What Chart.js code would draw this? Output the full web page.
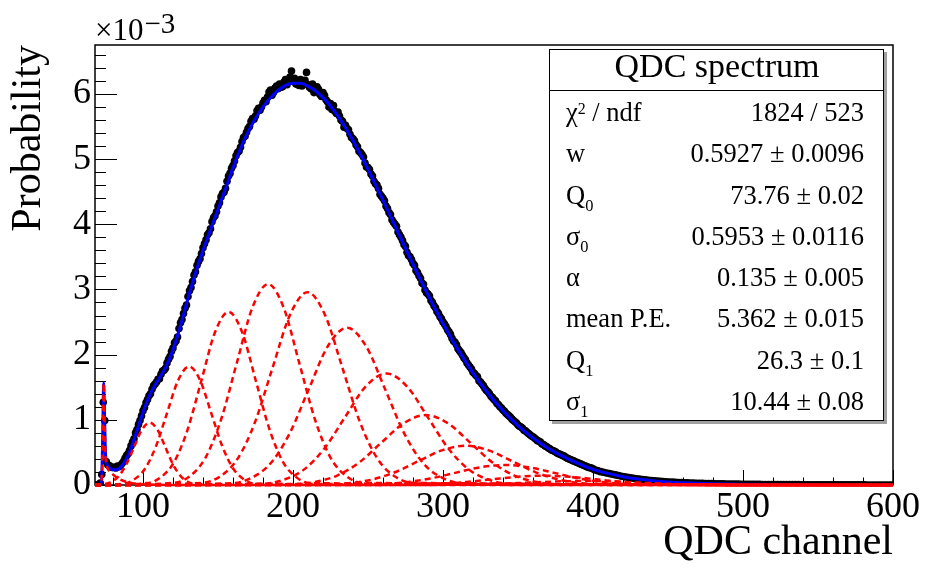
<!DOCTYPE html>
<html>
<head>
<meta charset="utf-8">
<title>QDC spectrum</title>
<script src="https://cdn.jsdelivr.net/npm/chart.js@4.4.1/dist/chart.umd.min.js"></script>
<style>
html,body{margin:0;padding:0;background:#fff;}
#wrap{width:927px;height:575px;}
canvas{display:block;}
</style>
</head>
<body>
<div id="wrap"><canvas id="chart" width="927" height="575"></canvas></div>
<script>
// ---- axis setup (probabilities are in units of 1e-3, see the x10^-3 multiplier) ----
const xTickValues = [100, 200, 300, 400, 500, 600];
const yTickValues = [0, 1, 2, 3, 4, 5, 6];
const xMinorStep = 20;
const yMinorStep = 0.2;
const xRange = [68, 600];
const yRange = [0, 6.75];

// ---- measured histogram (black points) ----
// pedestal region, 1-channel bins
const pedestalBinX = [68.5, 69.5, 70.5, 71.5, 72.5, 73.5, 74.5, 75.5, 76.5, 77.5, 78.5, 79.5];
const pedestalBinY = [0.0, 0.0, 0.005, 0.03, 0.16, 1.27, 0.99, 0.36, 0.31, 0.30, 0.28, 0.27];
// main region, 1-channel bins, channels 81 ... 400
const mainStart = 81;
const mainStep = 1;
const mainProbE3 = [
  0.27, 0.26, 0.29, 0.28, 0.30, 0.33, 0.36, 0.41, 0.45, 0.48,
  0.53, 0.60, 0.66, 0.71, 0.80, 0.85, 0.93, 0.99, 1.06, 1.14,
  1.19, 1.26, 1.31, 1.37, 1.40, 1.47, 1.52, 1.55, 1.58, 1.62,
  1.63, 1.70, 1.75, 1.76, 1.79, 1.87, 1.93, 1.97, 2.05, 2.10,
  2.18, 2.21, 2.27, 2.40, 2.49, 2.54, 2.63, 2.71, 2.76, 2.89,
  2.98, 3.03, 3.12, 3.22, 3.27, 3.37, 3.43, 3.47, 3.55, 3.64,
  3.70, 3.76, 3.84, 3.87, 3.93, 4.04, 4.10, 4.13, 4.19, 4.28,
  4.33, 4.42, 4.47, 4.49, 4.55, 4.66, 4.74, 4.78, 4.86, 4.90,
  4.97, 5.05, 5.10, 5.12, 5.18, 5.27, 5.33, 5.35, 5.41, 5.47,
  5.50, 5.58, 5.62, 5.61, 5.66, 5.74, 5.78, 5.75, 5.80, 5.86,
  5.90, 5.88, 5.95, 6.03, 6.06, 5.98, 6.02, 6.09, 6.12, 6.08,
  6.15, 6.10, 6.11, 6.18, 6.22, 6.14, 6.20, 6.26, 6.35, 6.19,
  6.24, 6.15, 6.18, 6.13, 6.22, 6.12, 6.16, 6.21, 6.33, 6.14,
  6.10, 6.08, 6.15, 6.02, 6.06, 6.11, 6.07, 5.99, 5.96, 6.02,
  5.98, 5.91, 5.88, 5.80, 5.85, 5.76, 5.82, 5.73, 5.70, 5.72,
  5.66, 5.60, 5.58, 5.49, 5.52, 5.47, 5.45, 5.38, 5.33, 5.31,
  5.28, 5.22, 5.19, 5.12, 5.10, 5.07, 5.03, 4.94, 4.88, 4.87,
  4.84, 4.77, 4.74, 4.66, 4.62, 4.60, 4.55, 4.46, 4.43, 4.40,
  4.36, 4.28, 4.24, 4.18, 4.15, 4.07, 4.03, 4.00, 3.97, 3.88,
  3.84, 3.80, 3.75, 3.69, 3.66, 3.57, 3.52, 3.50, 3.46, 3.40,
  3.37, 3.29, 3.26, 3.21, 3.17, 3.10, 3.08, 2.99, 2.95, 2.93,
  2.90, 2.83, 2.80, 2.75, 2.72, 2.66, 2.63, 2.58, 2.55, 2.50,
  2.47, 2.43, 2.38, 2.35, 2.31, 2.25, 2.21, 2.19, 2.15, 2.09,
  2.06, 2.03, 1.99, 1.95, 1.92, 1.87, 1.84, 1.81, 1.78, 1.73,
  1.71, 1.68, 1.66, 1.60, 1.58, 1.55, 1.52, 1.48, 1.45, 1.43,
  1.40, 1.36, 1.34, 1.31, 1.29, 1.25, 1.23, 1.20, 1.18, 1.15,
  1.13, 1.10, 1.08, 1.06, 1.04, 1.01, 0.99, 0.97, 0.95, 0.92,
  0.90, 0.89, 0.87, 0.84, 0.83, 0.81, 0.79, 0.77, 0.75, 0.74,
  0.72, 0.70, 0.68, 0.67, 0.66, 0.63, 0.62, 0.60, 0.59, 0.57,
  0.56, 0.54, 0.53, 0.52, 0.51, 0.49, 0.48, 0.47, 0.46, 0.45,
  0.44, 0.42, 0.41, 0.40, 0.39, 0.38, 0.37, 0.36, 0.35, 0.34,
  0.33, 0.32, 0.31, 0.30, 0.29, 0.28, 0.27, 0.265, 0.26, 0.25
];
// tail region, channels 401, 403, ... 599
const tailStart = 401;
const tailStep = 2;
const tailProbE3 = [
  0.235, 0.22, 0.205, 0.195, 0.185, 0.175, 0.165, 0.155, 0.145, 0.135,
  0.125, 0.118, 0.11, 0.102, 0.096, 0.09, 0.085, 0.079, 0.074, 0.069,
  0.064, 0.06, 0.056, 0.053, 0.05, 0.047, 0.044, 0.041, 0.038, 0.036,
  0.034, 0.032, 0.031, 0.029, 0.027, 0.026, 0.025, 0.023, 0.022, 0.021,
  0.020, 0.019, 0.018, 0.017, 0.016, 0.015, 0.014, 0.013, 0.013, 0.012,
  0.011, 0.011, 0.010, 0.010, 0.009, 0.009, 0.008, 0.008, 0.008, 0.007,
  0.007, 0.007, 0.006, 0.006, 0.006, 0.005, 0.005, 0.005, 0.005, 0.004,
  0.004, 0.004, 0.004, 0.004, 0.003, 0.003, 0.003, 0.003, 0.003, 0.003,
  0.003, 0.002, 0.002, 0.002, 0.002, 0.002, 0.002, 0.002, 0.002, 0.002,
  0.002, 0.001, 0.001, 0.001, 0.001, 0.001, 0.001, 0.001, 0.001, 0.001
];

// ---- total fit (blue) ----
const fitX = [68, 70, 71, 72, 72.5, 73, 73.4, 73.76, 74.1, 74.5,
  75, 76, 77, 78, 80, 82, 85, 90, 95, 100,
  105, 110, 115, 120, 125, 130, 135, 140, 145, 150,
  155, 160, 165, 170, 175, 180, 185, 190, 195, 200,
  205, 210, 215, 220, 225, 230, 235, 240, 245, 250,
  255, 260, 265, 270, 275, 280, 285, 290, 295, 300,
  310, 320, 330, 340, 350, 360, 370, 380, 390, 400,
  410, 420, 430, 440, 450, 460, 480, 500, 550, 600];
const fitY = [0, 0, 0.002, 0.02, 0.14, 0.58, 1.16, 1.56, 1.33, 0.93,
  0.48, 0.31, 0.28, 0.26, 0.235, 0.235, 0.27, 0.451, 0.762, 1.114,
  1.405, 1.608, 1.801, 2.073, 2.445, 2.861, 3.25, 3.596, 3.911, 4.228,
  4.545, 4.865, 5.161, 5.414, 5.622, 5.796, 5.939, 6.052, 6.130, 6.162,
  6.162, 6.119, 6.048, 5.942, 5.814, 5.658, 5.481, 5.285, 5.07, 4.844,
  4.607, 4.37, 4.123, 3.875, 3.629, 3.387, 3.146, 2.916, 2.692, 2.479,
  2.077, 1.721, 1.407, 1.138, 0.91, 0.721, 0.565, 0.439, 0.33, 0.24,
  0.178, 0.128, 0.092, 0.066, 0.047, 0.034, 0.018, 0.010, 0.003, 0.001];

// ---- fit components (red dashed), [channel, probability x1e3] ----
const pe0 = [[68,0],[71.5,0.001],[72,0.016],[72.5,0.136],[73,0.566],[73.4,1.10],[73.76,1.56],[74.1,1.30],[74.5,0.90],[75,0.46],[76,0.28],[78,0.21],[80,0.162],[85,0.082],[90,0.042],[95,0.021],[100,0.011],[110,0.003],[120,0.001],[600,0]];
const pe1 = [[68,0],[73.1,0.011],[78.3,0.042],[83.5,0.129],[88.8,0.311],[94.0,0.580],[99.2,0.845],[104.5,0.957],[109.7,0.845],[114.9,0.580],[120.1,0.311],[125.4,0.129],[130.6,0.042],[135.8,0.011],[600,0]];
const pe2 = [[68,0],[86.4,0.020],[93.8,0.080],[101.2,0.246],[108.6,0.591],[116.0,1.103],[123.4,1.605],[130.8,1.819],[138.1,1.605],[145.5,1.103],[152.9,0.591],[160.3,0.246],[167.7,0.080],[175.1,0.020],[600,0]];
const pe3 = [[68,0],[102.8,0.029],[111.8,0.117],[120.9,0.359],[129.9,0.862],[139.0,1.610],[148.0,2.343],[157.1,2.655],[166.1,2.343],[175.1,1.610],[184.2,0.862],[193.2,0.359],[202.3,0.117],[211.3,0.029],[600,0]];
const pe4 = [[68,0],[120.7,0.034],[131.2,0.135],[141.6,0.417],[152.0,1.001],[162.5,1.869],[172.9,2.720],[183.4,3.082],[193.8,2.720],[204.2,1.869],[214.7,1.001],[225.1,0.417],[235.6,0.135],[246.0,0.034],[600,0]];
const pe5 = [[68,0],[139.6,0.033],[151.3,0.130],[163.0,0.400],[174.6,0.960],[186.3,1.793],[198.0,2.610],[209.7,2.957],[221.3,2.610],[233.0,1.793],[244.7,0.960],[256.4,0.400],[268.0,0.130],[279.7,0.033],[600,0]];
const pe6 = [[68,0],[159.2,0.027],[172.0,0.106],[184.8,0.326],[197.6,0.784],[210.4,1.464],[223.2,2.129],[236.0,2.413],[248.7,2.129],[261.5,1.464],[274.3,0.784],[287.1,0.326],[299.9,0.106],[312.7,0.027],[600,0]];
const pe7 = [[68,0],[179.4,0.019],[193.2,0.075],[207.0,0.232],[220.8,0.556],[234.6,1.038],[248.4,1.510],[262.3,1.711],[276.1,1.510],[289.9,1.038],[303.7,0.556],[317.5,0.232],[331.3,0.075],[345.1,0.019],[600,0]];
const pe8 = [[68,0],[200.0,0.012],[214.7,0.047],[229.5,0.145],[244.3,0.348],[259.0,0.651],[273.8,0.947],[288.6,1.073],[303.3,0.947],[318.1,0.651],[332.8,0.348],[347.6,0.145],[362.4,0.047],[377.1,0.012],[600,0]];
const pe9 = [[68,0],[220.9,0.007],[236.6,0.026],[252.2,0.081],[267.9,0.195],[283.5,0.365],[299.2,0.531],[314.9,0.602],[330.5,0.531],[346.2,0.365],[361.8,0.195],[377.5,0.081],[393.1,0.026],[408.8,0.007],[600,0]];
const pe10 = [[68,0],[242.1,0.003],[258.6,0.013],[275.1,0.042],[291.6,0.100],[308.1,0.186],[324.6,0.271],[341.2,0.307],[357.7,0.271],[374.2,0.186],[390.7,0.100],[407.2,0.042],[423.7,0.013],[440.2,0.003],[600,0]];
const pe11 = [[68,0],[263.6,0.002],[280.9,0.006],[298.2,0.019],[315.5,0.046],[332.8,0.087],[350.1,0.126],[367.5,0.143],[384.8,0.126],[402.1,0.087],[419.4,0.046],[436.7,0.019],[454.0,0.006],[471.3,0.002],[600,0]];
const pe12 = [[68,0],[285.2,0.001],[303.3,0.003],[321.4,0.008],[339.5,0.020],[357.6,0.037],[375.7,0.054],[393.8,0.061],[411.8,0.054],[429.9,0.037],[448.0,0.020],[466.1,0.008],[484.2,0.003],[502.3,0.001],[600,0]];
const components = [pe0, pe1, pe2, pe3, pe4, pe5, pe6, pe7, pe8, pe9, pe10, pe11, pe12];

// ---- statistics box ----
const statTitle = 'QDC spectrum';
const statNames = ['χ^{2} / ndf', 'w', 'Q_{0}', 'σ_{0}', 'α', 'mean P.E.', 'Q_{1}', 'σ_{1}'];
const statValues = ['1824 / 523', '0.5927 ± 0.0096', '73.76 ± 0.02', '0.5953 ± 0.0116', '0.135 ± 0.005', '5.362 ± 0.015', '26.3 ± 0.1', '10.44 ± 0.08'];

const xTitle = 'QDC channel';
const yTitle = 'Probability';
const yMultiplier = ['×10', '−3'];

// ---------------------------------------------------------------
const FONT = '"Liberation Serif", "Times New Roman", Times, serif';
const toPts = (xs, ys) => xs.map((x, i) => ({x: x, y: ys[i]}));
const pairPts = arr => arr.map(p => ({x: p[0], y: p[1]}));
const mainX = mainProbE3.map((_, i) => mainStart + i * mainStep);
const tailX = tailProbE3.map((_, i) => tailStart + i * tailStep);

const rootFrame = {
  id: 'rootFrame',
  beforeDatasetsDraw(chart) {
    const {ctx, chartArea: a, scales: {x, y}} = chart;
    ctx.save();
    ctx.strokeStyle = '#000';
    ctx.lineWidth = 1;
    ctx.beginPath();
    for (let k = Math.ceil(x.min / xMinorStep); k * xMinorStep <= x.max + 1e-9; k++) {
      const v = k * xMinorStep;
      const major = xTickValues.includes(v);
      const px = Math.round(x.getPixelForValue(v)) + 0.5;
      ctx.moveTo(px, a.bottom);
      ctx.lineTo(px, a.bottom - (major ? 15 : 7.5));
    }
    for (let k = 0; k * yMinorStep <= y.max + 1e-9; k++) {
      const v = +(k * yMinorStep).toFixed(6);
      const major = Math.abs(v - Math.round(v)) < 1e-6 && yTickValues.includes(Math.round(v));
      const py = Math.round(y.getPixelForValue(v)) + 0.5;
      ctx.moveTo(a.left, py);
      ctx.lineTo(a.left + (major ? 22 : 11), py);
    }
    ctx.stroke();
    ctx.lineWidth = 1.5;
    ctx.strokeRect(a.left, a.top, a.right - a.left, a.bottom - a.top);
    ctx.restore();
  }
};

function drawRich(ctx, str, x, y, size, align) {
  const parts = str.split(/(\^\{[^}]*\}|_\{[^}]*\})/).filter(s => s.length);
  const items = parts.map(p => {
    if (p.startsWith('^{')) return {t: p.slice(2, -1), size: size * 0.6, dy: -7};
    if (p.startsWith('_{')) return {t: p.slice(2, -1), size: size * 0.62, dy: 7};
    return {t: p, size: size, dy: 0};
  });
  let total = 0;
  items.forEach(it => { ctx.font = it.size + 'px ' + FONT; it.w = ctx.measureText(it.t).width; total += it.w; });
  let cx = align === 'right' ? x - total : x;
  ctx.textAlign = 'left';
  items.forEach(it => { ctx.font = it.size + 'px ' + FONT; ctx.fillText(it.t, cx, y + it.dy); cx += it.w; });
}

const statsBox = {
  id: 'statsBox',
  afterDatasetsDraw(chart) {
    const ctx = chart.ctx;
    const L = 549, T = 49, R = 883, B = 420, SEP = 90;
    ctx.save();
    ctx.fillStyle = '#a0a0a0';
    ctx.fillRect(R + 1, T + 3, 3, B - T);
    ctx.fillRect(L + 3, B + 1, R - L + 1, 3);
    ctx.fillStyle = '#fff';
    ctx.fillRect(L, T, R - L, B - T);
    ctx.strokeStyle = '#000';
    ctx.lineWidth = 1;
    ctx.strokeRect(L + 0.5, T + 0.5, R - L, B - T);
    ctx.beginPath();
    ctx.moveTo(L, SEP + 0.5);
    ctx.lineTo(R + 1, SEP + 0.5);
    ctx.stroke();
    ctx.fillStyle = '#000';
    ctx.textBaseline = 'alphabetic';
    ctx.font = '34px ' + FONT;
    ctx.textAlign = 'center';
    ctx.fillText(statTitle, (L + R) / 2 + 1, 77);
    const rowH = (B - SEP) / statNames.length;
    statNames.forEach((name, i) => {
      const base = SEP + 31 + i * rowH;
      drawRich(ctx, name, 566, base, 26.5, 'left');
      drawRich(ctx, statValues[i], 864, base, 26.5, 'right');
    });
    ctx.restore();
  },
  afterDraw(chart) {
    const ctx = chart.ctx;
    const a = chart.chartArea;
    ctx.save();
    ctx.fillStyle = '#000';
    ctx.textAlign = 'left';
    ctx.textBaseline = 'alphabetic';
    ctx.font = '31px ' + FONT;
    ctx.fillText(yMultiplier[0], a.left, 40);
    const w = ctx.measureText(yMultiplier[0]).width;
    ctx.font = '29px ' + FONT;
    ctx.fillText(yMultiplier[1], a.left + w + 1, 33);
    ctx.restore();
  }
};

const redStyle = {
  showLine: true, borderColor: '#ff0000', borderWidth: 2.5, borderDash: [6, 4],
  pointRadius: 0, pointHoverRadius: 0, fill: false, cubicInterpolationMode: 'monotone',
  order: 0, clip: 4
};

const datasets = [
  {
    label: 'data',
    data: toPts(pedestalBinX, pedestalBinY).concat(toPts(mainX, mainProbE3), toPts(tailX, tailProbE3)),
    showLine: false, pointRadius: 3.8, pointHoverRadius: 3.8,
    pointBackgroundColor: '#000', pointBorderColor: '#000', pointBorderWidth: 0, order: 2
  },
  {
    label: 'fit',
    data: toPts(fitX, fitY),
    showLine: true, borderColor: '#0000ff', borderWidth: 3, pointRadius: 0, pointHoverRadius: 0,
    fill: false, cubicInterpolationMode: 'monotone', order: 1, clip: 4
  }
].concat(components.map((c, i) => Object.assign({label: 'n=' + i, data: pairPts(c)}, redStyle)));

new Chart(document.getElementById('chart'), {
  type: 'scatter',
  data: {datasets: datasets},
  options: {
    responsive: false,
    animation: false,
    events: [],
    layout: {padding: {left: 0, right: 34, top: 45, bottom: 0}},
    plugins: {legend: {display: false}, tooltip: {enabled: false}, title: {display: false}},
    scales: {
      x: {
        type: 'linear', min: xRange[0], max: xRange[1],
        afterBuildTicks: s => { s.ticks = xTickValues.map(v => ({value: v})); },
        afterFit: s => { s.height = 90; },
        grid: {display: false, drawTicks: false},
        border: {display: false},
        ticks: {font: {family: FONT, size: 36}, color: '#000', padding: 1, maxRotation: 0, autoSkip: false},
        title: {display: true, text: xTitle, align: 'end', color: '#000', font: {family: FONT, size: 42}, padding: {top: 0, bottom: 7}}
      },
      y: {
        type: 'linear', min: yRange[0], max: yRange[1],
        afterBuildTicks: s => { s.ticks = yTickValues.map(v => ({value: v})); },
        afterFit: s => { s.width = 95; },
        grid: {display: false, drawTicks: false},
        border: {display: false},
        ticks: {font: {family: FONT, size: 36}, color: '#000', padding: 4, autoSkip: false},
        title: {display: true, text: yTitle, align: 'end', color: '#000', font: {family: FONT, size: 42}, padding: {top: 4, bottom: 0}}
      }
    }
  },
  plugins: [rootFrame, statsBox]
});
</script>
</body>
</html>
